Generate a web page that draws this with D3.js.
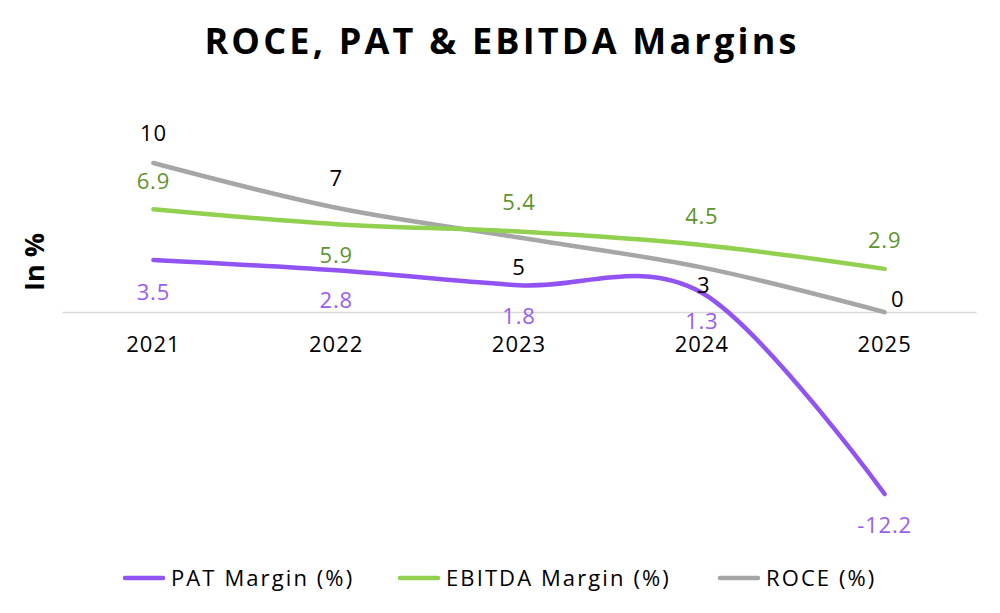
<!DOCTYPE html>
<html><head><meta charset="utf-8">
<script src="https://cdn.jsdelivr.net/npm/d3@7"></script>
<style>body{margin:0;background:#fff}svg{display:block}text{font-family:"Open Sans",sans-serif}</style>
</head><body><svg id="c" width="1000" height="613"></svg>
<script>
const years = ["2021","2022","2023","2024","2025"];
const patMargin = [3.5, 2.8, 1.8, 1.3, -12.2];
const ebitdaMargin = [6.9, 5.9, 5.4, 4.5, 2.9];
const roce = [10, 7, 5, 3, 0];
const seriesNames = ["PAT Margin (%)", "EBITDA Margin (%)", "ROCE (%)"];

const svg = d3.select("#c");
const x = d3.scaleBand().domain(years).range([62, 976]);
const y = d3.scaleLinear().domain([-12.2, 10]).range([494, 163]);
const cx = d => x(d) + x.bandwidth()/2;

const series = [
  {name: seriesNames[0], values: patMargin, color: "#9153F3", label: "#9B5CF6", dy: [32,30,31,29,31], dx:[0,0,0,0,0]},
  {name: seriesNames[1], values: ebitdaMargin, color: "#92D050", label: "#5E9430", dy: [-28,31,-29,-29,-29], dx:[0,0,0,0,0]},
  {name: seriesNames[2], values: roce, color: "#A6A6A6", label: "#000000", dy: [-30,-29,30,18,-13], dx:[0,0,0,2,13]}
];

svg.append("text").attr("x", 502).attr("y", 54).attr("text-anchor","middle")
  .attr("font-size", 36).attr("font-weight", 700).attr("letter-spacing", 3.2).attr("fill","#000")
  .text("ROCE, PAT & EBITDA Margins");

svg.append("text").attr("transform","translate(44,262) rotate(-90)").attr("text-anchor","middle")
  .attr("font-size", 27).attr("font-weight", 700).text("In %");

// axis
const ax = svg.append("g").attr("transform", `translate(0,${y(0)})`)
  .call(d3.axisBottom(x).tickSize(0).tickPadding(24));
ax.select(".domain").attr("stroke","#D9D9D9").attr("stroke-width",1.5);
ax.selectAll("text").attr("font-size", 22).attr("letter-spacing", 1).attr("fill","#000").attr("font-family","Open Sans");

const line = d3.line().x((d,i)=>cx(years[i])).y(d=>y(d)).curve(d3.curveCardinal.tension(0));

[series[2], series[1], series[0]].forEach(s => {
  svg.append("path").datum(s.values).attr("d", line).attr("fill","none")
    .attr("stroke", s.color).attr("stroke-width", 4.5).attr("stroke-linecap","round");
});
series.forEach(s => {
  svg.append("g").selectAll("text").data(s.values).join("text")
    .attr("x",(d,i)=>cx(years[i]) + s.dx[i]).attr("y",(d,i)=>y(d)+s.dy[i])
    .attr("dy","0.35em").attr("text-anchor","middle").attr("font-size",22).attr("letter-spacing",0.8)
    .attr("fill",s.label).text(d=>d);
});

// legend
const legX = [125, 400, 720];
series.forEach((s,i) => {
  const g = svg.append("g").attr("transform",`translate(${legX[i]},578)`);
  g.append("line").attr("x1",0).attr("x2",38).attr("stroke",s.color).attr("stroke-width",4.5).attr("stroke-linecap","round");
  g.append("text").attr("x",46).attr("dy","0.35em").attr("font-size",22).attr("letter-spacing",2.1).attr("fill","#000").text(s.name);
});
</script></body></html>
